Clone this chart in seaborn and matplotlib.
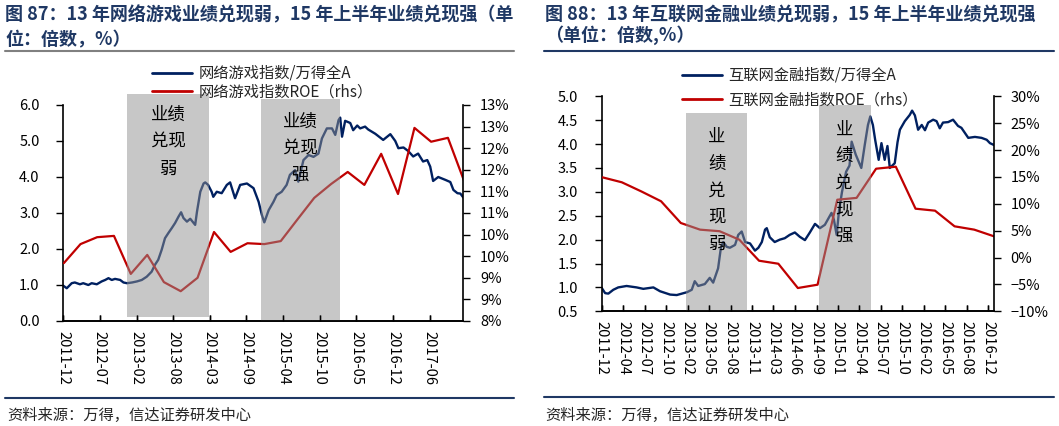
import seaborn as sns
import matplotlib.pyplot as plt
from matplotlib.lines import Line2D
from matplotlib.ticker import FuncFormatter, MultipleLocator
import pandas as pd

# ---------------- 图87：网络游戏 ----------------
game_dates = ['2011-12-28', '2012-01-16', '2012-02-12', '2012-02-29', '2012-03-28', '2012-04-15',
              '2012-05-13', '2012-05-31', '2012-06-28', '2012-07-25', '2012-08-13', '2012-08-31',
              '2012-09-18', '2012-10-06', '2012-11-03', '2012-11-21', '2012-12-10', '2013-01-07',
              '2013-02-03', '2013-03-01', '2013-03-28', '2013-04-24', '2013-05-12', '2013-05-30',
              '2013-06-18', '2013-07-06', '2013-07-24', '2013-08-12', '2013-08-30', '2013-09-18',
              '2013-10-02', '2013-10-15', '2013-11-03', '2013-11-21', '2013-12-18', '2013-12-28',
              '2014-01-15', '2014-02-02', '2014-02-11', '2014-02-27', '2014-03-18', '2014-03-27',
              '2014-04-15', '2014-05-12', '2014-06-09', '2014-06-27', '2014-07-24', '2014-08-21',
              '2014-09-27', '2014-11-02', '2014-11-30', '2014-12-18', '2014-12-31', '2015-01-24',
              '2015-02-19', '2015-03-09', '2015-04-05', '2015-05-02', '2015-05-20', '2015-06-17',
              '2015-07-05', '2015-08-02', '2015-08-30', '2015-09-26', '2015-10-23', '2015-11-11',
              '2015-12-08', '2016-01-05', '2016-01-23', '2016-02-10', '2016-02-19', '2016-02-29',
              '2016-03-17', '2016-04-14', '2016-04-30', '2016-05-22', '2016-06-07', '2016-07-04',
              '2016-07-21', '2016-08-29', '2016-10-11', '2016-11-19', '2016-12-16', '2017-01-02',
              '2017-01-30', '2017-02-25', '2017-03-24', '2017-04-20', '2017-05-17', '2017-06-09',
              '2017-06-25', '2017-07-11', '2017-08-08', '2017-09-16', '2017-10-13', '2017-10-30',
              '2017-11-21', '2017-12-07', '2017-12-23']
game_ratio = [0.98, 0.91, 1.05, 1.07, 1.02, 1.05,
              1.00, 1.05, 1.02, 1.10, 1.14, 1.19,
              1.14, 1.17, 1.14, 1.07, 1.05, 1.07,
              1.10, 1.14, 1.23, 1.37, 1.56, 1.70,
              1.98, 2.30, 2.44, 2.58, 2.72, 2.90,
              3.02, 2.86, 2.76, 2.84, 2.67, 3.04,
              3.59, 3.82, 3.85, 3.78, 3.59, 3.45,
              3.59, 3.55, 3.78, 3.85, 3.41, 3.78,
              3.82, 3.69, 3.31, 2.94, 2.74, 3.08,
              3.31, 3.50, 3.59, 3.78, 4.06, 4.19,
              3.87, 4.47, 4.61, 4.56, 4.65, 5.07,
              5.35, 5.35, 5.17, 5.58, 5.65, 5.12,
              5.56, 5.50, 5.30, 5.43, 5.35, 5.40,
              5.32, 5.20, 5.03, 5.19, 5.00, 4.80,
              4.82, 4.72, 4.57, 4.65, 4.43, 4.47,
              4.29, 3.89, 4.00, 3.92, 3.86, 3.64,
              3.55, 3.54, 3.43]
game_roe_dates = ['2011-12-31', '2012-03-31', '2012-06-30', '2012-09-30', '2012-12-31', '2013-03-31',
                  '2013-06-30', '2013-09-30', '2013-12-31', '2014-03-31', '2014-06-30', '2014-09-30',
                  '2014-12-31', '2015-03-31', '2015-06-30', '2015-09-30', '2015-12-31', '2016-03-31',
                  '2016-06-30', '2016-09-30', '2016-12-31', '2017-03-31', '2017-06-30', '2017-09-30',
                  '2017-12-31']
game_roe = [9.34, 9.78, 9.94, 9.97, 9.09, 9.53,
            8.90, 8.69, 9.00, 10.06, 9.60, 9.80,
            9.78, 9.85, 10.35, 10.85, 11.17, 11.45,
            11.15, 11.87, 10.94, 12.47, 12.15, 12.24,
            11.20]
game_ticks = ['2011-12-28', '2012-07-15', '2013-02-02', '2013-08-20', '2014-03-07', '2014-09-24',
              '2015-04-12', '2015-10-30', '2016-05-17', '2016-12-04', '2017-06-22']
game_tick_labels = ['2011-12', '2012-07', '2013-02', '2013-08', '2014-03', '2014-09',
                    '2015-04', '2015-10', '2016-05', '2016-12', '2017-06']
game_spans = [('2012-12-13', '2014-03-03'), ('2014-12-14', '2016-02-19')]
game_span_text = ['业绩\n兑现\n弱', '业绩\n兑现\n强']

# ---------------- 图88：互联网金融 ----------------
fin_dates = ['2011-12-28', '2012-01-13', '2012-01-28', '2012-02-20', '2012-03-14', '2012-04-22',
             '2012-06-08', '2012-07-09', '2012-08-25', '2012-09-25', '2012-11-11', '2012-12-12',
             '2013-01-29', '2013-02-20', '2013-03-06', '2013-03-22', '2013-04-22', '2013-05-15',
             '2013-05-31', '2013-06-23', '2013-07-06', '2013-07-17', '2013-08-02', '2013-08-17',
             '2013-09-10', '2013-09-25', '2013-10-11', '2013-10-27', '2013-11-19', '2013-12-12',
             '2013-12-28', '2014-01-13', '2014-01-28', '2014-02-05', '2014-02-19', '2014-03-14',
             '2014-04-07', '2014-04-30', '2014-05-23', '2014-06-16', '2014-07-09', '2014-08-02',
             '2014-08-25', '2014-09-18', '2014-10-11', '2014-11-03', '2014-12-04', '2014-12-15',
             '2014-12-28', '2015-01-08', '2015-01-22', '2015-02-10', '2015-02-26', '2015-03-08',
             '2015-03-27', '2015-04-22', '2015-05-08', '2015-05-23', '2015-06-03', '2015-06-15',
             '2015-06-26', '2015-07-12', '2015-07-25', '2015-08-09', '2015-08-22', '2015-09-02',
             '2015-09-25', '2015-10-08', '2015-10-19', '2015-11-11', '2015-12-04', '2015-12-15',
             '2015-12-28', '2016-01-12', '2016-01-29', '2016-02-13', '2016-02-28', '2016-03-22',
             '2016-04-07', '2016-04-22', '2016-05-07', '2016-05-31', '2016-06-23', '2016-07-16',
             '2016-08-01', '2016-09-02', '2016-10-03', '2016-11-03', '2016-11-27', '2016-12-12',
             '2016-12-31']
fin_ratio = [0.99, 0.88, 0.87, 0.95, 1.00, 1.03,
             1.00, 0.97, 1.00, 0.92, 0.85, 0.84,
             0.90, 0.95, 1.13, 1.03, 1.07, 1.20,
             1.10, 1.40, 1.83, 1.95, 1.85, 1.83,
             1.89, 2.10, 2.17, 1.95, 1.92, 1.77,
             1.83, 1.95, 2.21, 2.24, 2.05, 1.95,
             2.00, 2.03, 2.10, 2.15, 2.06, 1.99,
             2.15, 2.33, 2.24, 2.31, 2.56, 2.42,
             2.10, 2.60, 3.00, 3.42, 3.55, 4.05,
             3.78, 3.50, 3.98, 4.40, 4.58, 4.40,
             4.08, 3.67, 4.02, 3.67, 3.96, 3.50,
             3.60, 4.04, 4.30, 4.48, 4.61, 4.70,
             4.60, 4.30, 4.40, 4.29, 4.45, 4.51,
             4.48, 4.33, 4.45, 4.46, 4.51, 4.38,
             4.34, 4.13, 4.15, 4.13, 4.09, 4.02,
             3.98]
fin_roe_dates = ['2011-12-31', '2012-03-31', '2012-06-30', '2012-09-30', '2012-12-31', '2013-03-31',
                 '2013-06-30', '2013-09-30', '2013-12-31', '2014-03-31', '2014-06-30', '2014-09-30',
                 '2014-12-31', '2015-03-31', '2015-06-30', '2015-09-30', '2015-12-31', '2016-03-31',
                 '2016-06-30', '2016-09-30', '2016-12-31']
fin_roe = [14.93, 14.00, 12.30, 10.47, 6.43, 5.19,
           4.90, 3.32, -0.59, -1.15, -5.67, -5.05,
           10.76, 11.10, 16.53, 16.90, 9.09, 8.72,
           5.81, 5.19, 3.95]
fin_ticks = ['2011-12-28', '2012-04-06', '2012-07-15', '2012-10-24', '2013-02-02', '2013-05-11',
             '2013-08-20', '2013-11-28', '2014-03-07', '2014-06-16', '2014-09-25', '2015-01-03',
             '2015-04-12', '2015-07-21', '2015-10-30', '2016-02-08', '2016-05-17', '2016-08-26',
             '2016-12-04']
fin_tick_labels = ['2011-12', '2012-04', '2012-07', '2012-10', '2013-02', '2013-05', '2013-08',
                   '2013-11', '2014-03', '2014-06', '2014-09', '2015-01', '2015-04', '2015-07',
                   '2015-10', '2016-02', '2016-05', '2016-08', '2016-12']
fin_spans = [('2013-01-25', '2013-11-06'), ('2014-10-06', '2015-06-05')]
fin_span_text = ['业\n绩\n兑\n现\n弱', '业\n绩\n兑\n现\n强']

NAVY = '#002060'
RED = '#C00000'
TITLE = '#1F3864'
SHADE = '#919191'
FONT = ['Noto Sans CJK SC', 'DejaVu Sans']

sns.set_theme(style='white')
plt.rcParams['font.family'] = FONT
plt.rcParams['axes.unicode_minus'] = True

W, H = 1059, 426
fig = plt.figure(figsize=(W / 100, H / 100), dpi=100)


def px(x0, y0, x1, y1):
    # pixel box -> figure fraction [left, bottom, width, height]
    return [x0 / W, 1 - y1 / H, (x1 - x0) / W, (y1 - y0) / H]


def draw(box, dates, ratio, roe_dates, roe, ticks, tick_labels, xlim,
         ylim, ystep, yfmt, ylim2, ystep2, yfmt2, spans, span_y, span_text, text_pos):
    ax = fig.add_axes(px(*box))
    ax2 = ax.twinx()
    df = pd.DataFrame({'date': pd.to_datetime(dates), 'ratio': ratio})
    df2 = pd.DataFrame({'date': pd.to_datetime(roe_dates), 'roe': roe})
    sns.lineplot(data=df, x='date', y='ratio', ax=ax, color=NAVY, linewidth=1.7)
    sns.lineplot(data=df2, x='date', y='roe', ax=ax2, color=RED, linewidth=1.6)

    ax.set_xlim(pd.Timestamp(xlim[0]), pd.Timestamp(xlim[1]))
    ax.set_ylim(*ylim)
    ax.yaxis.set_major_locator(MultipleLocator(ystep))
    ax.yaxis.set_major_formatter(FuncFormatter(yfmt))
    ax2.set_ylim(*ylim2)
    ax2.yaxis.set_major_locator(MultipleLocator(ystep2))
    ax2.yaxis.set_major_formatter(FuncFormatter(yfmt2))
    ax.set_xticks(pd.to_datetime(ticks))
    ax.set_xticklabels(tick_labels, rotation=-90, fontsize=10.5)
    for a in (ax, ax2):
        a.set_xlabel('')
        a.set_ylabel('')
        a.grid(False)
        for s in a.spines.values():
            s.set_color('black')
            s.set_linewidth(1.2)
        a.spines['top'].set_visible(False)
    ax.spines['right'].set_visible(False)
    ax2.spines['left'].set_visible(False)
    ax.tick_params(axis='x', bottom=True, direction='in', length=4, width=1,
                   colors='black', pad=7)
    ax.tick_params(axis='y', left=True, direction='out', length=5, width=1,
                   colors='black', labelsize=10.5, pad=12)
    ax2.tick_params(axis='y', right=True, direction='out', length=5, width=1,
                    colors='black', labelsize=10.5, pad=7)
    ax2.xaxis.set_visible(True)
    ax2.tick_params(axis='x', bottom=True, labelbottom=False, direction='in',
                    length=4, width=1, colors='black')
    ax2.set_axisbelow(False)

    for (s, e), (y0, y1) in zip(spans, span_y):
        r = ax2.axvspan(pd.Timestamp(s), pd.Timestamp(e), ymin=y0, ymax=y1,
                        facecolor=SHADE, alpha=0.5, lw=0, zorder=2.3)
        r.set_clip_on(False)
    for t, (tx, ty) in zip(span_text, text_pos):
        ax2.text(tx, ty, t, transform=ax2.transAxes, ha='center', va='top',
                 fontsize=12.5, linespacing=1.62, color='black', zorder=5)
    return ax, ax2


# left panel
draw((63.3, 105, 463.3, 321), game_dates, game_ratio, game_roe_dates, game_roe,
     game_ticks, game_tick_labels, ('2011-12-28', '2017-12-23'),
     (0, 6), 1, lambda v, p: f'{v:.1f}',
     (8, 13), 0.5, lambda v, p: f'{int(v + 0.5 + 1e-6)}%',
     game_spans, [(0.017, 1.052), (0.0, 1.028)], game_span_text,
     [(0.262, 0.995), (0.592, 0.965)])

# right panel
draw((601.7, 96.3, 994, 311.3), fin_dates, fin_ratio, fin_roe_dates, fin_roe,
     fin_ticks, fin_tick_labels, ('2011-12-28', '2016-12-31'),
     (0.5, 5.0), 0.5, lambda v, p: f'{v:.1f}',
     (-10, 30), 5, lambda v, p: f'{v:.0f}%'.replace('-', '\u2212'),
     fin_spans, [(0.0, 0.922), (0.007, 0.961)], fin_span_text,
     [(0.293, 0.853), (0.618, 0.888)])

# legends
h = [Line2D([], [], color=NAVY, lw=2), Line2D([], [], color=RED, lw=2)]
fig.legend(h, ['网络游戏指数/万得全A', '网络游戏指数ROE（rhs）'], loc='upper left',
           bbox_to_anchor=(152 / W, 1 - 65 / H), frameon=False, fontsize=11,
           handlelength=2.6, handletextpad=0.45, labelspacing=0.12, borderpad=0,
           borderaxespad=0)
fig.legend(h, ['互联网金融指数/万得全A', '互联网金融指数ROE（rhs）'], loc='upper left',
           bbox_to_anchor=(682 / W, 1 - 67 / H), frameon=False, fontsize=11,
           handlelength=2.6, handletextpad=0.45, labelspacing=0.5, borderpad=0,
           borderaxespad=0)

# titles, rules and source
fig.text(5 / W, 1 - 14.5 / H, '图 87：13 年网络游戏业绩兑现弱，15 年上半年业绩兑现强（单',
         fontsize=13, fontweight='bold', color=TITLE, va='center')
fig.text(5 / W, 1 - 39.5 / H, '位：倍数，%）',
         fontsize=13, fontweight='bold', color=TITLE, va='center')
fig.text(545 / W, 1 - 14.5 / H, '图 88：13 年互联网金融业绩兑现弱，15 年上半年业绩兑现强',
         fontsize=13, fontweight='bold', color=TITLE, va='center')
fig.text(545 / W, 1 - 35 / H, '（单位：倍数,%）',
         fontsize=13, fontweight='bold', color=TITLE, va='center')
fig.add_artist(Line2D([5 / W, 514 / W], [1 - 50.7 / H] * 2, color='#808080', lw=1.5))
fig.add_artist(Line2D([543.5 / W, 1054 / W], [1 - 50.7 / H] * 2, color=TITLE, lw=1.5))
fig.add_artist(Line2D([5 / W, 514 / W], [1 - 397.5 / H] * 2, color=TITLE, lw=1.5))
fig.add_artist(Line2D([543.5 / W, 1054 / W], [1 - 397 / H] * 2, color=TITLE, lw=1.5))
fig.text(7 / W, 1 - 415 / H, '资料来源：万得，信达证券研发中心', fontsize=11, va='center')
fig.text(545 / W, 1 - 415 / H, '资料来源：万得，信达证券研发中心', fontsize=11, va='center')

fig.savefig('out.png', dpi=100)
